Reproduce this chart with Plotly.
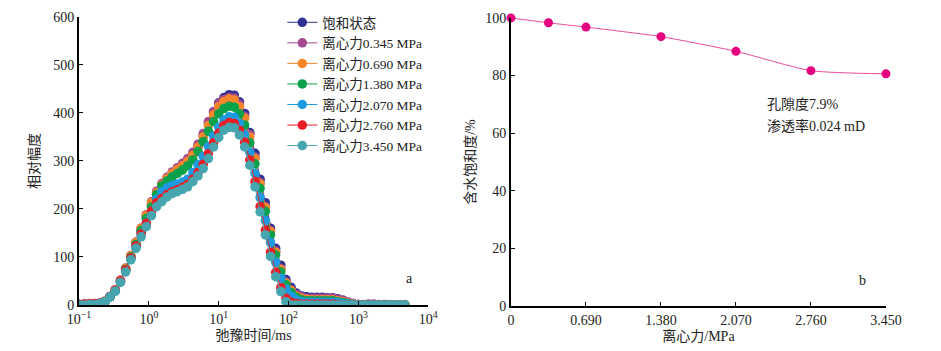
import plotly.graph_objects as go

# ---------------- data ----------------
t2_ms = [0.100, 0.119, 0.141, 0.167, 0.198, 0.234, 0.278, 0.330, 0.392, 0.465,
         0.551, 0.653, 0.775, 0.918, 1.089, 1.292, 1.533, 1.818, 2.156, 2.558,
         3.034, 3.597, 4.266, 5.061, 6.004, 7.122, 8.449, 10.02, 11.89, 14.10,
         16.72, 19.83, 23.52, 27.90, 33.10, 39.17, 46.56, 55.21, 65.46, 77.62,
         92.04, 109.1, 129.4, 153.5, 182.0, 215.8, 255.9, 303.5, 359.9, 427.6,
         507.0, 601.2, 712.9, 845.3, 1002, 1189, 1409, 1671, 1982, 2355,
         2793, 3311, 3926, 4656]

series_names = ["饱和状态", "离心力0.345 MPa", "离心力0.690 MPa", "离心力1.380 MPa",
                "离心力2.070 MPa", "离心力2.760 MPa", "离心力3.450 MPa"]

amp_sat = [1, 1, 2, 2, 3, 7, 17, 30, 49, 73, 99, 126, 154, 182, 208, 230, 247, 260, 271, 280,
           289, 299, 312, 330, 352, 378, 401, 421, 432, 438, 437, 423, 399, 359, 316, 262, 213, 160, 118, 83,
           53, 37, 25, 19, 17, 16, 16, 16, 15, 15, 13, 10, 6, 3, 1, 0, 0, 0, 0, 0,
           0, 0, 0, 0]
amp_0345 = [1, 2, 3, 2, 3, 8, 18, 32, 52, 77, 103, 131, 160, 188, 215, 237, 253, 266, 277, 286,
            295, 305, 318, 335, 357, 382, 403, 420, 428, 432, 431, 418, 393, 355, 308, 255, 205, 155, 112, 76,
            48, 32, 22, 17, 14, 14, 14, 14, 14, 14, 12, 10, 6, 3, 1, 1, 2, 2, 1, 1,
            0, 0, 0, 0]
amp_0690 = [1, 1, 2, 2, 3, 8, 18, 31, 51, 76, 103, 130, 160, 187, 213, 234, 250, 263, 274, 282,
            290, 299, 312, 329, 350, 374, 396, 413, 424, 429, 427, 413, 389, 350, 305, 252, 203, 153, 110, 74,
            46, 30, 19, 14, 12, 11, 11, 11, 11, 11, 9, 7, 4, 2, 1, 0, 0, 0, 0, 0,
            0, 0, 0, 0]
amp_1380 = [1, 1, 1, 2, 3, 7, 17, 30, 49, 74, 100, 126, 155, 180, 204, 230, 248, 258, 267, 274,
            281, 290, 302, 320, 340, 362, 382, 398, 409, 414, 412, 398, 375, 338, 294, 243, 195, 146, 104, 69,
            42, 26, 16, 11, 9, 9, 9, 9, 9, 9, 7, 5, 3, 1, 0, 0, 0, 0, 0, 0,
            0, 0, 0, 0]
amp_2070 = [1, 1, 1, 2, 3, 7, 17, 29, 48, 71, 96, 121, 148, 170, 195, 220, 236, 244, 249, 252,
            256, 262, 276, 292, 309, 330, 352, 370, 385, 392, 391, 378, 355, 318, 274, 224, 176, 130, 89, 56,
            33, 19, 11, 7, 6, 6, 6, 6, 6, 6, 5, 3, 2, 1, 0, 0, 0, 0, 0, 0,
            0, 0, 0, 0]
amp_2760 = [1, 2, 2, 3, 4, 7, 18, 31, 50, 73, 98, 123, 148, 170, 195, 213, 222, 230, 236, 240,
            245, 251, 262, 276, 293, 315, 338, 358, 374, 380, 378, 364, 339, 302, 257, 205, 156, 110, 68, 36,
            14, 6, 3, 2, 2, 2, 2, 2, 2, 2, 1, 0, 0, 0, 0, 0, 0, 0, 0, 0,
            0, 0, 0, 0]
amp_3450 = [0, 0, 1, 1, 3, 7, 17, 29, 47, 69, 94, 118, 142, 163, 186, 205, 215, 225, 232, 236,
            241, 246, 257, 269, 284, 305, 329, 349, 364, 370, 369, 354, 329, 291, 246, 194, 146, 101, 59, 28,
            7, 0, 0, 0, 0, 0, 0, 0, 0, 0, 0, 0, 0, 0, 0, 0, 0, 0, 0, 0,
            0, 0, 0, 0]

series_values = [amp_sat, amp_0345, amp_0690, amp_1380, amp_2070, amp_2760, amp_3450]
series_colors = ["#2e3192", "#a3498f", "#f7862a", "#0aa14b", "#1e9ae0", "#ec1c24", "#46a6b0"]

log_tickvals = [0.1, 1, 10, 100, 1000, 10000]
log_ticktext = ["10<sup>−1</sup>", "10<sup>0</sup>", "10<sup>1</sup>", "10<sup>2</sup>",
                "10<sup>3</sup>", "10<sup>4</sup>"]

pressure = [0, 0.345, 0.690, 1.380, 2.070, 2.760, 3.450]
saturation = [100, 98.3, 96.8, 93.5, 88.4, 81.7, 80.6]
pressure_ticks = [0, 0.690, 1.380, 2.070, 2.760, 3.450]
pressure_ticktext = ["0", "0.690", "1.380", "2.070", "2.760", "3.450"]

FONT = "Liberation Serif, Times New Roman, Noto Sans CJK SC, serif"

# ---------------- figure ----------------
fig = go.Figure()

for name, vals, col in zip(series_names, series_values, series_colors):
    fig.add_trace(go.Scatter(
        x=t2_ms, y=vals, name=name, mode="lines+markers",
        line=dict(color=col, width=1),
        marker=dict(color=col, size=9.5),
        xaxis="x", yaxis="y",
    ))

fig.add_trace(go.Scatter(
    x=pressure, y=saturation, mode="lines+markers", showlegend=False,
    line=dict(color="#ec4b98", width=1, shape="spline", smoothing=0.6),
    marker=dict(color="#e4007f", size=9),
    xaxis="x2", yaxis="y2", cliponaxis=False,
))

axis_common = dict(
    showline=True, linecolor="black", linewidth=2,
    ticks="inside", ticklen=4, tickwidth=1, tickcolor="black",
    showgrid=False, zeroline=False, mirror=False, automargin=False,
    tickfont=dict(family=FONT, size=14, color="#222"),
)

fig.update_layout(
    width=941, height=351,
    margin=dict(l=0, r=0, t=0, b=0, autoexpand=False),
    paper_bgcolor="white", plot_bgcolor="white",
    font=dict(family=FONT, size=14, color="#222"),
    showlegend=True,
    legend=dict(
        x=0.300, y=0.98, xanchor="left", yanchor="top",
        bgcolor="rgba(0,0,0,0)", borderwidth=0,
        font=dict(family=FONT, size=13.5, color="#222"),
        itemwidth=30, tracegroupgap=0,
    ),
    xaxis=dict(
        domain=[0.084, 0.455], type="log", range=[-1, 4],
        tickvals=log_tickvals, ticktext=log_ticktext,
        title=dict(text="弛豫时间/ms", font=dict(family=FONT, size=14), standoff=4),
        anchor="y",
        **axis_common,
    ),
    yaxis=dict(
        domain=[0.131, 0.952], range=[0, 600], tickvals=[0, 100, 200, 300, 400, 500, 600],
        title=dict(text="相对幅度", font=dict(family=FONT, size=14), standoff=10),
        anchor="x",
        **axis_common,
    ),
    xaxis2=dict(
        domain=[0.543, 0.9415], range=[0, 3.45],
        tickvals=pressure_ticks, ticktext=pressure_ticktext,
        title=dict(text="离心力/MPa", font=dict(family=FONT, size=14), standoff=4),
        anchor="y2",
        **axis_common,
    ),
    yaxis2=dict(
        domain=[0.128, 0.949], range=[0, 100], tickvals=[0, 20, 40, 60, 80, 100],
        title=dict(text="含水饱和度/%", font=dict(family=FONT, size=14), standoff=6),
        anchor="x2",
        **axis_common,
    ),
    annotations=[
        dict(text="a", x=0.4355, y=0.18, xref="paper", yref="paper", showarrow=False,
             font=dict(family=FONT, size=14, color="#222")),
        dict(text="b", x=0.9225, y=0.175, xref="paper", yref="paper", showarrow=False,
             font=dict(family=FONT, size=14, color="#222")),
        dict(text="孔隙度7.9%", x=0.813, y=0.702, xref="paper", yref="paper", showarrow=False,
             xanchor="left", yanchor="middle", font=dict(family=FONT, size=14, color="#222")),
        dict(text="渗透率0.024 mD", x=0.813, y=0.640, xref="paper", yref="paper", showarrow=False,
             xanchor="left", yanchor="middle", font=dict(family=FONT, size=14, color="#222")),
    ],
)

fig.write_html("out.html")
